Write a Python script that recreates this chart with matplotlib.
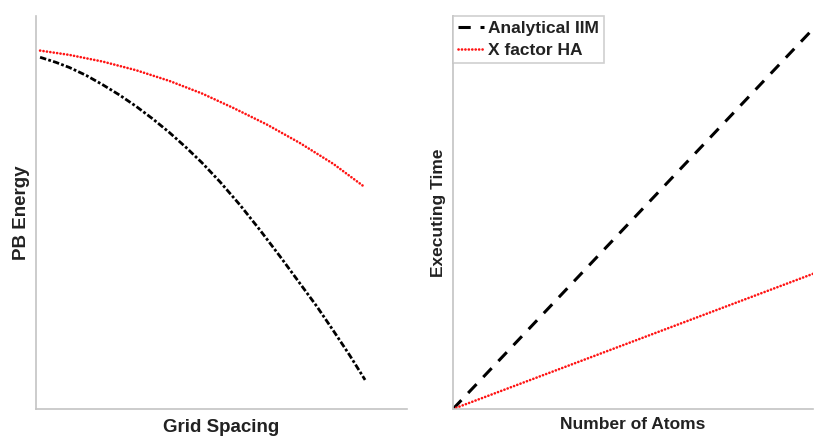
import matplotlib
matplotlib.use("Agg")
import matplotlib.pyplot as plt

plt.rcParams['font.family'] = ['Liberation Sans', 'DejaVu Sans']

# Left panel: PB energy versus grid spacing (arbitrary units)
grid_spacing_iim = [0.011, 0.054, 0.090, 0.135, 0.180, 0.225, 0.270, 0.315, 0.359, 0.404,
                    0.447, 0.496, 0.550, 0.604, 0.658, 0.711, 0.757, 0.801, 0.846, 0.887]
energy_iim = [0.895, 0.882, 0.869, 0.849, 0.825, 0.799, 0.770, 0.738, 0.704, 0.666,
              0.627, 0.578, 0.519, 0.455, 0.388, 0.320, 0.261, 0.200, 0.136, 0.074]
grid_spacing_ha = [0.011, 0.090, 0.180, 0.270, 0.359, 0.447, 0.532, 0.622, 0.711, 0.801, 0.887]
energy_ha = [0.912, 0.901, 0.884, 0.862, 0.835, 0.803, 0.766, 0.724, 0.677, 0.624, 0.564]

# Right panel: executing time versus number of atoms (arbitrary units)
n_atoms = [0.0, 1.0]
time_iim = [0.0, 0.967]
time_ha = [0.0, 0.344]

series_labels = ["Analytical IIM", "X factor HA"]

W, H = 814, 436
fig = plt.figure(figsize=(W / 100, H / 100), dpi=100)

def axes_px(left, right, top, bottom):
    return fig.add_axes([left / W, 1 - bottom / H, (right - left) / W, (bottom - top) / H])

spine_color = "#c4c4c4"
text_color = "#222222"
red = "#ff1414"
dotted = (0, (0.05, 1.25))

def style(ax):
    for s in ("top", "right"):
        ax.spines[s].set_visible(False)
    for s in ("left", "bottom"):
        ax.spines[s].set_color(spine_color)
        ax.spines[s].set_linewidth(1.2)
    ax.set_xticks([])
    ax.set_yticks([])
    ax.set_xlim(0, 1)
    ax.set_ylim(0, 1)

ax1 = axes_px(36, 407, 16, 409)
style(ax1)
ax1.plot(grid_spacing_iim, energy_iim, color="black", lw=2.0,
         linestyle=(0, (2.3, 0.8, 1.0, 0.8)), dash_capstyle="butt")
ax1.plot(grid_spacing_ha, energy_ha, color=red, lw=1.9,
         linestyle=dotted, dash_capstyle="round")
ax1.set_xlabel("Grid Spacing", fontsize=13.5, fontweight="bold", color=text_color, labelpad=7)
ax1.set_ylabel("PB Energy", fontsize=13.5, fontweight="bold", color=text_color, labelpad=4)

ax2 = axes_px(453, 813, 16, 409)
style(ax2)
ax2.plot(n_atoms, time_iim, color="black", lw=2.2,
         linestyle=(0, (4.0, 3.2)), label=series_labels[0])
ax2.plot(n_atoms, time_ha, color=red, lw=1.9,
         linestyle=dotted, dash_capstyle="round", label=series_labels[1])
ax2.set_xlabel("Number of Atoms", fontsize=12.5, fontweight="bold", color=text_color, labelpad=6)
ax2.set_ylabel("Executing Time", fontsize=12.5, fontweight="bold", color=text_color, labelpad=5)

leg = ax2.legend(loc="upper left", bbox_to_anchor=(0, 1), borderaxespad=0,
                 frameon=True, fancybox=False, handlelength=1.5, handletextpad=0.2,
                 borderpad=0.3, labelspacing=0.35,
                 prop={"weight": "bold", "size": 12.5})
leg.get_frame().set_edgecolor(spine_color)
leg.get_frame().set_linewidth(1.2)
for t in leg.get_texts():
    t.set_color(text_color)

fig.savefig("out.png", dpi=100)
